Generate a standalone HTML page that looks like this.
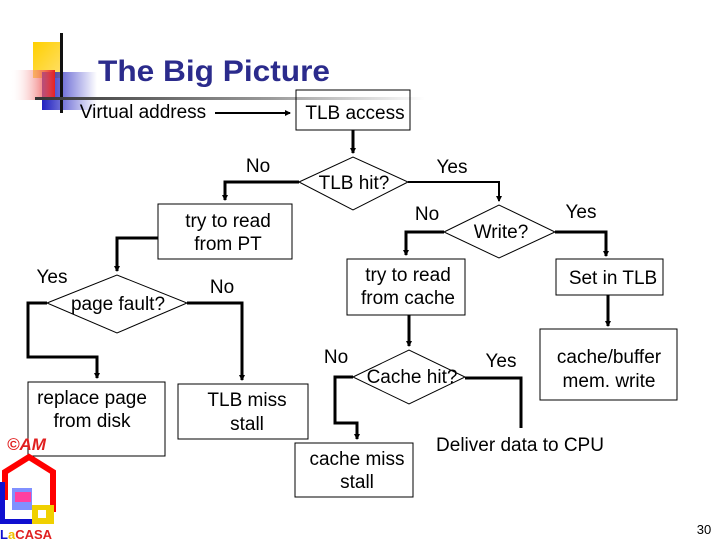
<!DOCTYPE html>
<html><head><style>
body{margin:0;background:#fff;}
svg{display:block;font-family:"Liberation Sans",sans-serif;}
</style></head><body>
<svg width="720" height="540" viewBox="0 0 720 540" xmlns="http://www.w3.org/2000/svg">
<defs>
<linearGradient id="rg" x1="0" x2="1"><stop offset="0" stop-color="#fff" stop-opacity="0"/><stop offset="1" stop-color="#e82020"/></linearGradient>
<linearGradient id="yg" x1="0" x2="1" y1="0" y2="1"><stop offset="0" stop-color="#ffd000"/><stop offset="1" stop-color="#ffe070"/></linearGradient>
<linearGradient id="bg" x1="0" x2="1"><stop offset="0" stop-color="#2020c0"/><stop offset="1" stop-color="#2020c0" stop-opacity="0"/></linearGradient>
<linearGradient id="lg" x1="0" x2="1"><stop offset="0" stop-color="#333"/><stop offset="0.6" stop-color="#999"/><stop offset="1" stop-color="#fff"/></linearGradient>
<marker id="a" markerWidth="6" markerHeight="6" refX="5" refY="3" orient="auto" markerUnits="userSpaceOnUse"><path d="M0,0L6,3L0,6z" fill="#000"/></marker>
</defs>
<rect x="33" y="42" width="30" height="36" fill="url(#yg)"/>
<rect x="42" y="72" width="55" height="38" fill="url(#bg)"/>
<rect x="10" y="70" width="45" height="30" fill="url(#rg)"/>
<rect x="60" y="33" width="3" height="80" fill="#111"/>
<rect x="35" y="97" width="390" height="3" fill="url(#lg)"/>
<text x="98" y="81" font-size="30" font-weight="bold" fill="#2b2b8c" textLength="232" lengthAdjust="spacingAndGlyphs">The Big Picture</text>

<g fill="none" stroke="#000" stroke-width="1">
<rect x="296" y="90" width="114" height="40"/>
<polygon points="299,182 353,157 408,182 353,210"/>
<rect x="158" y="204" width="134" height="55"/>
<polygon points="47,303 117,275 187,303 117,333"/>
<rect x="28" y="382" width="137" height="74"/>
<rect x="178" y="384" width="130" height="55"/>
<polygon points="444,232 499,205 555,232 499,258"/>
<rect x="347" y="259" width="118" height="56"/>
<rect x="556" y="259" width="107" height="36"/>
<rect x="540" y="329" width="137" height="71"/>
<polygon points="353,377 409,350 465,377 409,404"/>
<rect x="295" y="443" width="118" height="54"/>
</g>
<g fill="none" stroke="#000" stroke-width="3">
<polyline points="215,113 290,113" stroke-width="2" marker-end="url(#a)"/>
<polyline points="353,130 353,153" marker-end="url(#a)"/>
<polyline points="299,182 225,182 225,200" marker-end="url(#a)"/>
<polyline points="158,238 117,238 117,271" marker-end="url(#a)"/>
<polyline points="47,303 28,303 28,357 97,357 97,378" marker-end="url(#a)"/>
<polyline points="187,303 242,303 242,380" marker-end="url(#a)"/>
<polyline points="408,182 499,182 499,201" stroke-width="2" marker-end="url(#a)"/>
<polyline points="444,232 406,232 406,255" marker-end="url(#a)"/>
<polyline points="555,232 606,232 606,256" marker-end="url(#a)"/>
<polyline points="608,295 608,326" marker-end="url(#a)"/>
<polyline points="409,315 409,346" marker-end="url(#a)"/>
<polyline points="353,377 335,377 335,423 357,423 357,439" marker-end="url(#a)"/>
<polyline points="465,378 521,378 521,428"/>
</g>
<g font-size="19" fill="#000" text-anchor="middle">
<text x="143" y="118">Virtual address</text>
<text x="355" y="119">TLB access</text>
<text x="354" y="189">TLB hit?</text>
<text x="258" y="172">No</text>
<text x="452" y="173">Yes</text>
<text x="228" y="227">try to read</text>
<text x="228" y="250">from PT</text>
<text x="427" y="220">No</text>
<text x="501" y="238">Write?</text>
<text x="581" y="218">Yes</text>
<text x="52" y="283">Yes</text>
<text x="222" y="293">No</text>
<text x="118" y="310">page fault?</text>
<text x="408" y="281">try to read</text>
<text x="408" y="304">from cache</text>
<text x="613" y="284">Set in TLB</text>
<text x="336" y="363">No</text>
<text x="412" y="383">Cache hit?</text>
<text x="501" y="367">Yes</text>
<text x="609" y="363">cache/buffer</text>
<text x="609" y="387">mem. write</text>
<text x="92" y="404">replace page</text>
<text x="92" y="427">from disk</text>
<text x="247" y="406">TLB miss</text>
<text x="247" y="430">stall</text>
<text x="357" y="465">cache miss</text>
<text x="357" y="488">stall</text>
<text x="520" y="451">Deliver data to CPU</text>
</g>
<text x="704" y="534" font-size="13" text-anchor="middle">30</text>
<text x="7" y="450" font-size="17" font-weight="bold" fill="#e02020" font-style="italic">©AM</text>
<polyline points="5,500 5,472 29,457 53,472 53,512" fill="none" stroke="#f00" stroke-width="6"/>
<rect x="0" y="482" width="5" height="42" fill="#1010d0"/>
<rect x="0" y="519" width="33" height="5" fill="#1010d0"/>
<rect x="12" y="488" width="20" height="22" fill="#8090ff"/>
<rect x="15" y="492" width="16" height="10" fill="#ff40a0"/>
<rect x="32" y="505" width="22" height="19" fill="#f0d000"/>
<rect x="38" y="510" width="8" height="8" fill="#fff"/>
<text x="0" y="539" font-size="13" font-weight="bold" fill="#1010d0">L<tspan fill="#f0c000">a</tspan><tspan fill="#e02020">CASA</tspan></text>
</svg>
</body></html>
